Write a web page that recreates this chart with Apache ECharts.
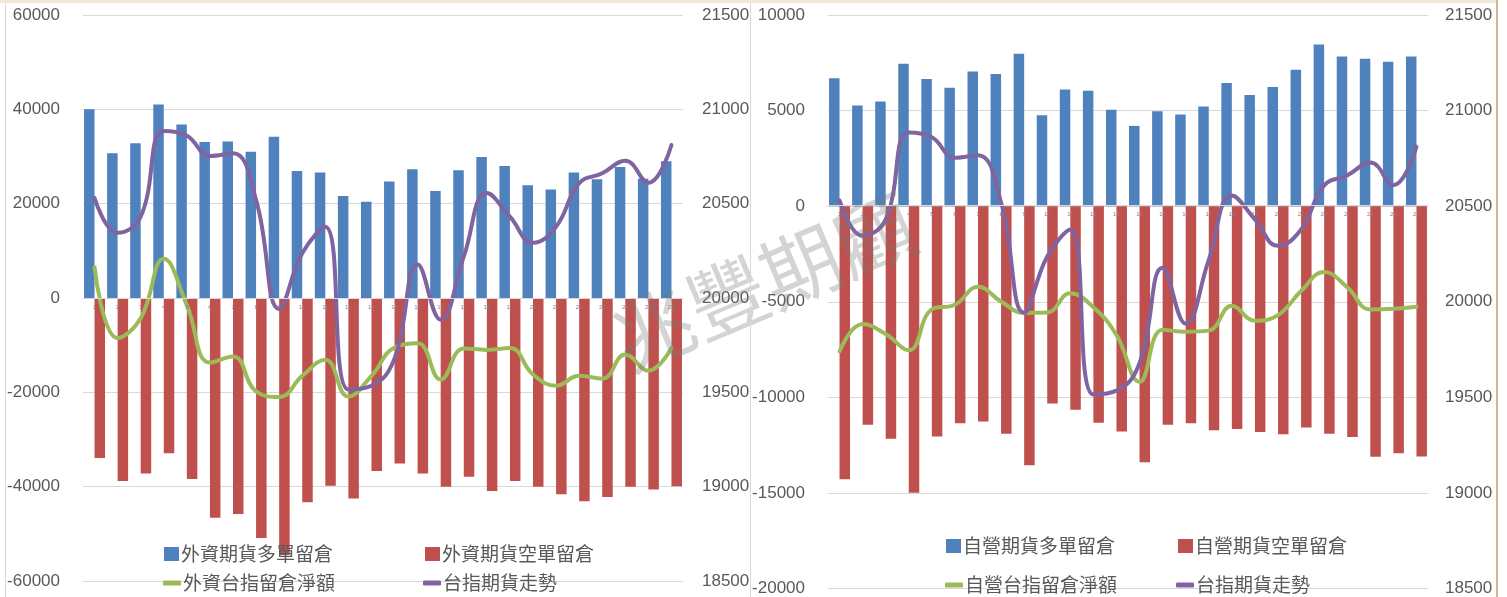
<!DOCTYPE html>
<html>
<head>
<meta charset="utf-8">
<script src="https://cdn.jsdelivr.net/npm/echarts@6/dist/echarts.min.js"></script>
<style>
  html, body { margin: 0; padding: 0; background: #ffffff; }
  #wrap { position: relative; width: 1507px; height: 597px; overflow: hidden; background: #fff; }
  #chart { position: absolute; left: 0; top: 0; width: 1507px; height: 597px; }
  .ln { position: absolute; }
</style>
</head>
<body>
<div id="wrap">
  <div id="chart"></div>
  <div class="ln" style="left:0;top:0;width:1497px;height:3px;background:#f3e7da;"></div>
  <div class="ln" style="left:5px;top:3px;width:1px;height:594px;background:#d9d9d9;"></div>
  <div class="ln" style="left:750px;top:3px;width:1px;height:594px;background:#d9d9d9;"></div>
  <div class="ln" style="left:1496px;top:0;width:2px;height:597px;background:#c9bc8c;"></div>
</div>
<script>
// ---------- data ----------
const categories = ['1','2','3','4','5','6','7','8','9','10','11','12','13','14','15','16','17','18','19','20','21','22','23','24','25','26'];

const foreignLong  = [40000, 30700, 32800, 41000, 36800, 33100, 33200, 31000, 34200, 26900, 26600, 21600, 20400, 24700, 27300, 22700, 27100, 29900, 28000, 23900, 23000, 26600, 25200, 27800, 25300, 29000];
const foreignShort = [-33900, -38800, -37200, -32900, -38400, -46600, -45800, -50900, -54500, -43300, -39800, -42500, -36700, -35100, -37200, -40000, -37900, -40900, -38800, -40000, -41600, -43100, -42200, -40000, -40600, -39900];
const foreignNet   = [6500, -8500, -4300, 8300, -1500, -13700, -12400, -19800, -21000, -16500, -13100, -20900, -16500, -10500, -9600, -17300, -10700, -11000, -10600, -16200, -18600, -16500, -17100, -12000, -15400, -10600];

const propLong  = [6690, 5260, 5470, 7450, 6650, 6200, 7050, 6910, 7970, 4760, 6100, 6040, 5050, 4200, 4970, 4790, 5210, 6440, 5820, 6230, 7140, 8460, 7830, 7710, 7550, 7830];
const propShort = [-14290, -11430, -12160, -14990, -12050, -11360, -11270, -11900, -13550, -10320, -10650, -11330, -11790, -13390, -11440, -11360, -11720, -11650, -11810, -11930, -11580, -11910, -12070, -13110, -12920, -13090];
const propNet   = [-7600, -6170, -6690, -7540, -5400, -5160, -4220, -4990, -5580, -5560, -4550, -5290, -6740, -9190, -6470, -6570, -6510, -5210, -5990, -5700, -4440, -3450, -4240, -5400, -5370, -5260];

const indexFut = [20530, 20346, 20431, 20885, 20860, 20753, 20767, 20519, 19942, 20237, 20378, 19515, 19535, 19680, 20178, 19885, 20219, 20556, 20431, 20293, 20378, 20608, 20661, 20728, 20611, 20811];

const names = {
  fLong: '外資期貨多單留倉', fShort: '外資期貨空單留倉', fNet: '外資台指留倉淨額',
  pLong: '自營期貨多單留倉', pShort: '自營期貨空單留倉', pNet: '自營台指留倉淨額',
  idx: '台指期貨走勢'
};

// ---------- styles ----------
const BLUE = '#4F81BD', RED = '#C0504D', GREEN = '#9BBB59', PURPLE = '#8064A2';
const NUMFONT = '"Liberation Sans", Arial, sans-serif';
const CJK = '"Noto Sans CJK TC", "Noto Sans CJK SC", sans-serif';
const labelColor = '#595959';
const gridColor = '#d9d9d9';

// x axis sits on the zero line of the left value axis (offset from grid bottom)
function xAxisDef(gridIndex, offset) {
  return {
    type: 'category', gridIndex, data: categories, position: 'bottom', offset, z: 6,
    axisLine: { show: true, onZero: false, lineStyle: { color: gridColor, width: 1 } },
    axisTick: { show: false },
    axisLabel: { fontSize: 6, color: '#7f7f7f', margin: 6, fontFamily: NUMFONT, interval: 0 },
    splitLine: { show: false }
  };
}
function yAxisDef(gridIndex, pos, min, max, interval, margin, split) {
  return {
    type: 'value', gridIndex, position: pos, min, max, interval,
    axisLine: { show: false }, axisTick: { show: false },
    axisLabel: { fontSize: 17, color: labelColor, margin, fontFamily: NUMFONT, formatter: v => String(v) },
    splitLine: { show: split, lineStyle: { color: gridColor, width: 1 } }
  };
}
function barSeries(name, data, color, xi, yi) {
  return { name, type: 'bar', xAxisIndex: xi, yAxisIndex: yi, data,
    barGap: '0%', barCategoryGap: '9%',
    itemStyle: { color }, emphasis: { disabled: true }, z: 2 };
}
function lineSeries(name, data, color, xi, yi, z) {
  return { name, type: 'line', xAxisIndex: xi, yAxisIndex: yi, data,
    smooth: 0.45, showSymbol: false, symbol: 'none',
    lineStyle: { color, width: 4, cap: 'round', join: 'round' }, itemStyle: { color },
    emphasis: { disabled: true }, z };
}
function legendItem(name, left, centerY, isLine) {
  return {
    data: [name], left, top: centerY - 11, padding: 0, itemGap: 0,
    itemWidth: isLine ? 18 : 15, itemHeight: isLine ? 5 : 14,
    icon: isLine ? 'roundRect' : 'rect',
    selectedMode: false,
    textStyle: { fontSize: 19, color: labelColor, fontFamily: CJK, lineHeight: 22, padding: [0, 0, 0, -3] }
  };
}

const chart = echarts.init(document.getElementById('chart'), null, { renderer: 'canvas' });
chart.setOption({
  animation: false,
  backgroundColor: 'transparent',
  grid: [
    { left: 83, right: 1507 - 683, top: 15, bottom: 597 - 581 },
    { left: 828, right: 1507 - 1428, top: 15, bottom: 597 - 590 }
  ],
  xAxis: [ xAxisDef(0, -283), xAxisDef(1, -383) ],
  yAxis: [
    yAxisDef(0, 'left', -60000, 60000, 20000, 23, true),
    yAxisDef(0, 'right', 18500, 21500, 500, 19, false),
    yAxisDef(1, 'left', -20000, 10000, 5000, 23, true),
    yAxisDef(1, 'right', 18500, 21500, 500, 17, false)
  ],
  legend: [
    legendItem(names.fLong, 164, 554, false),
    legendItem(names.fShort, 425, 554, false),
    legendItem(names.fNet, 163, 583, true),
    legendItem(names.idx, 423, 583, true),
    legendItem(names.pLong, 946, 546, false),
    legendItem(names.pShort, 1178, 546, false),
    legendItem(names.pNet, 945, 585, true),
    legendItem(names.idx, 1176, 585, true)
  ],
  series: [
    barSeries(names.fLong, foreignLong, BLUE, 0, 0),
    barSeries(names.fShort, foreignShort, RED, 0, 0),
    lineSeries(names.fNet, foreignNet, GREEN, 0, 0, 3),
    lineSeries(names.idx, indexFut, PURPLE, 0, 1, 4),
    barSeries(names.pLong, propLong, BLUE, 1, 2),
    barSeries(names.pShort, propShort, RED, 1, 2),
    lineSeries(names.pNet, propNet, GREEN, 1, 2, 3),
    lineSeries(names.idx, indexFut, PURPLE, 1, 3, 4)
  ],
  graphic: [{
    type: 'text', x: 764, y: 282, rotation: 0.40, z: 100, silent: true,
    style: { text: '兆豐期顧', fontSize: 80, fontFamily: CJK, fill: 'rgba(120,120,120,0.32)',
             align: 'center', verticalAlign: 'middle' }
  }]
});
</script>
</body>
</html>
